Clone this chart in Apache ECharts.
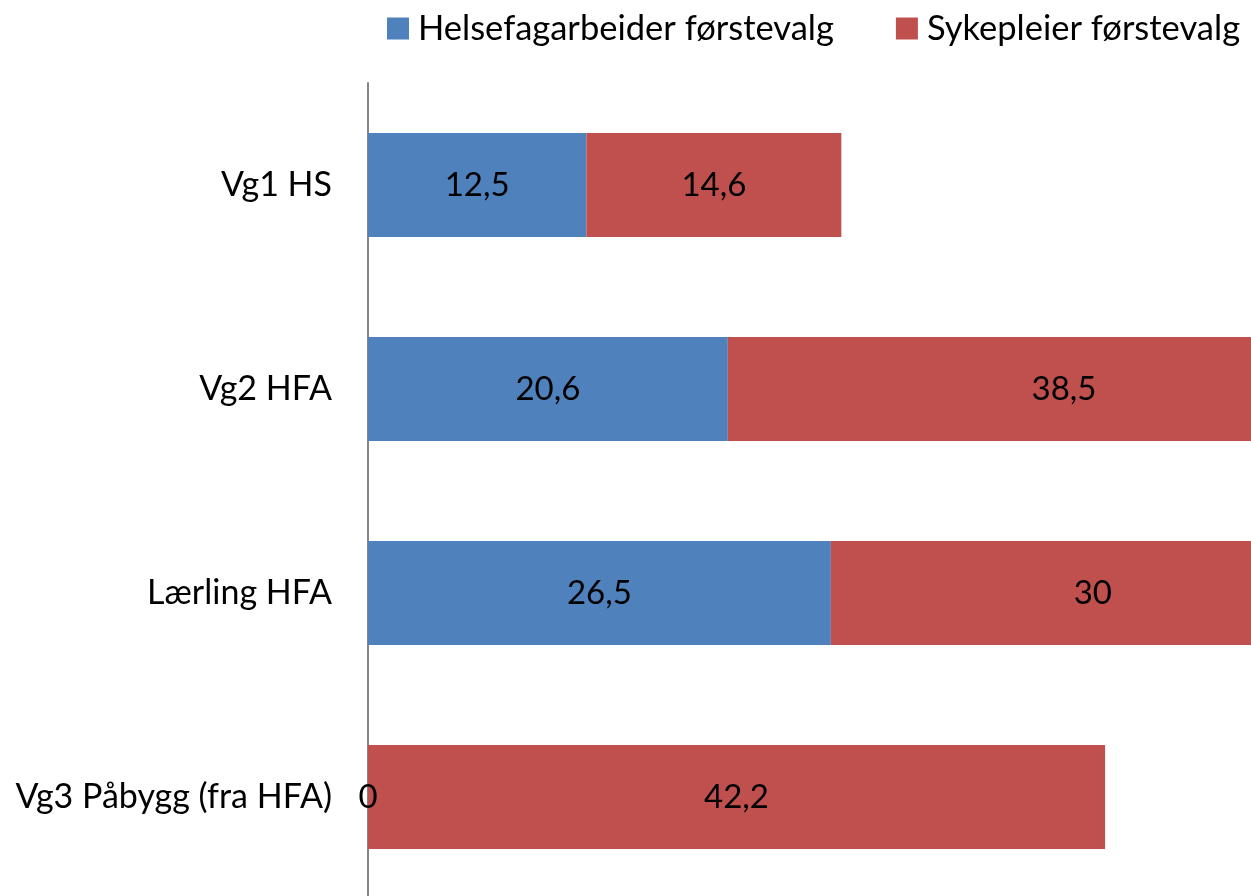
<!DOCTYPE html>
<html>
<head>
<meta charset="utf-8">
<script src="https://cdn.jsdelivr.net/npm/echarts@6/dist/echarts.min.js"></script>
<style>
    html, body { margin: 0; padding: 0; background: #fff; }
    #chart { width: 1251px; height: 896px; }
</style>
</head>
<body>
<div id="chart"></div>
<script>
const categories = ['Vg1 HS', 'Vg2 HFA', 'Lærling HFA', 'Vg3 Påbygg (fra HFA)']
const helsefagarbeider = [12.5, 20.6, 26.5, 0]
const sykepleier = [14.6, 38.5, 30, 42.2]
const seriesNames = ['Helsefagarbeider førstevalg', 'Sykepleier førstevalg']
const colorList = ['#4F81BD', '#C0504D']

const fontFamily = 'Lato, "Open Sans", sans-serif'
const fmt = p => String(p.value).replace('.', ',')

const myChart = echarts.init(document.getElementById('chart'))
const makeSeries = (name, data, color) => ({
    name: name,
    type: 'bar',
    stack: 'total',
    data: data,
    // bars run past the right edge of the picture, like the cropped original
    clip: false,
    barCategoryGap: '49%',
    itemStyle: { color: color },
    label: {
        show: true,
        position: 'inside',
        color: '#000',
        fontSize: 33,
        fontFamily: fontFamily,
        formatter: fmt
    }
})

myChart.setOption({
    animation: false,
    color: colorList,
    legend: {
        top: 6,
        left: 382,
        itemWidth: 22,
        itemHeight: 22,
        itemGap: 62,
        icon: 'rect',
        textStyle: {
            color: '#000',
            fontSize: 34.5,
            fontFamily: fontFamily,
            padding: [0, 0, 0, 4]
        },
        data: seriesNames
    },
    grid: {
        left: 368,
        top: 83,
        width: 1048,
        height: 816,
        outerBoundsMode: 'none'
    },
    xAxis: {
        type: 'value',
        min: 0,
        max: 60,
        show: false
    },
    yAxis: {
        type: 'category',
        inverse: true,
        data: categories,
        axisLine: {
            show: true,
            lineStyle: { color: '#868686', width: 2 }
        },
        axisTick: { show: false },
        axisLabel: {
            color: '#000',
            fontSize: 34,
            fontFamily: fontFamily,
            margin: 36
        }
    },
    series: [
        makeSeries(seriesNames[0], helsefagarbeider, colorList[0]),
        makeSeries(seriesNames[1], sykepleier, colorList[1])
    ]
})
</script>
</body>
</html>
